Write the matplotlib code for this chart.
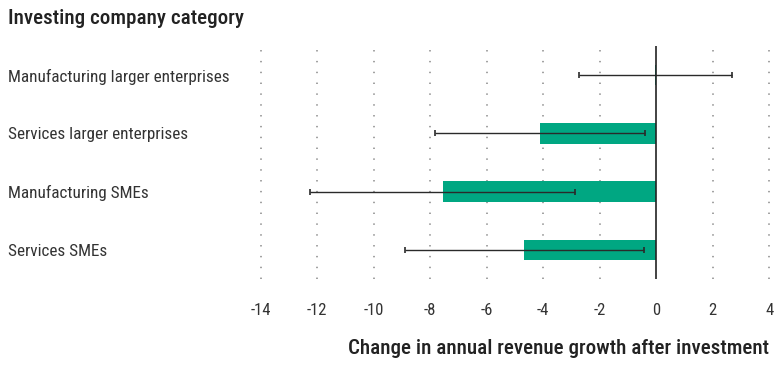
import matplotlib
matplotlib.use("Agg")
from matplotlib import pyplot as plt

# datos del grafico
categorias = ["Manufacturing larger enterprises", "Services larger enterprises",
              "Manufacturing SMEs", "Services SMEs"]
valores = [-0.05, -4.11, -7.56, -4.68]
error_bajo = [-2.73, -7.83, -12.24, -8.90]
error_alto = [2.67, -0.39, -2.89, -0.43]
ticks_x = [-14, -12, -10, -8, -6, -4, -2, 0, 2, 4]

verde = "#00a782"
gris_texto = "#333333"

plt.rcParams["font.family"] = ["Roboto Condensed", "Roboto", "DejaVu Sans"]

fig = plt.figure(figsize=(7.74, 3.65), dpi=100)
ax = fig.add_axes([255 / 774, 86 / 365, 518.4 / 774, 233 / 365])

pos = list(range(len(categorias)))

# lineas de grilla punteadas
for t in ticks_x:
    if t == 0:
        continue
    ax.axvline(t, color="#9a9a9a", lw=1.3, ls=(0, (0.8, 5.2)), zorder=0)

ax.barh(pos, valores, height=0.35, color=verde, zorder=2)

# intervalos
xerr = [[v - lo for v, lo in zip(valores, error_bajo)],
        [hi - v for v, hi in zip(valores, error_alto)]]
ax.errorbar(valores, pos, xerr=xerr, fmt="none", ecolor="#2a2a2a",
            elinewidth=1.0, capsize=2.5, capthick=1.2, zorder=3)

ax.axvline(0, color="#222222", lw=1.2, zorder=4)

ax.set_xlim(-14.2, 4.15)
ax.set_ylim(3.5, -0.5)

ax.set_xticks(ticks_x)
ax.set_xticklabels([str(t) for t in ticks_x], color=gris_texto, fontsize=12)
ax.tick_params(axis="x", length=0, pad=17)

ax.set_yticks(pos)
ax.set_yticklabels(categorias, color=gris_texto, fontsize=12.3, ha="left")
ax.tick_params(axis="y", length=0, pad=247 / 1.389)

for s in ax.spines.values():
    s.set_visible(False)

fig.text(8 / 774, 1 - 18 / 365, "Investing company category", fontsize=15.1,
         fontweight="medium", color="#222222", ha="left", va="center")
fig.text(769 / 774, 1 - 349 / 365, "Change in annual revenue growth after investment",
         fontsize=15.1, fontweight="medium", color="#222222", ha="right", va="center")

fig.savefig("out.png", dpi=100)
